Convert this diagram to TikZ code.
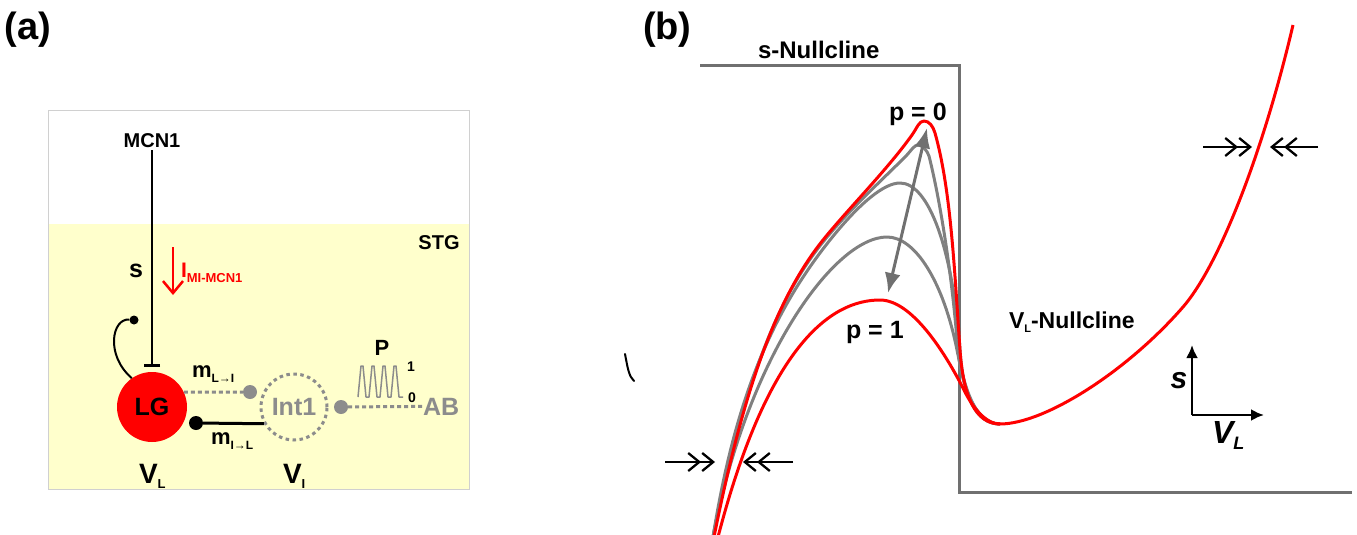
\documentclass[tikz,border=0pt]{standalone}
\usepackage{fontspec}
\setmainfont{Liberation Sans}
\usetikzlibrary{arrows.meta}
\newcommand\myfs[1]{\fontsize{#1pt}{#1pt}\selectfont\bfseries}
\definecolor{stgyellow}{HTML}{FFFFCC}
\definecolor{boxgray}{HTML}{D0D0D0}
\definecolor{dotgray}{HTML}{8C8C8C}
\definecolor{curvegray}{HTML}{808080}
\definecolor{nullgray}{HTML}{707070}
\definecolor{arrgray}{HTML}{707070}
\tikzset{
  txt/.style={inner sep=0pt, outer sep=0pt},
  gdot/.style={circle, fill=dotgray, inner sep=0pt, minimum size=14},
  kdot/.style={circle, fill=black, inner sep=0pt, minimum size=14},
  sdotk/.style={circle, fill=black, inner sep=0pt, minimum size=9},
  gdash/.style={dotgray, line width=3, dash pattern=on 4 off 3},
  redc/.style={red, line width=3, line join=round},
  grayc/.style={curvegray, line width=3, line join=round},
  chev/.style={line width=2.3, -{Straight Barb[length=11,width=18,line width=2.3] Straight Barb[length=11,width=18,line width=2.3]}},
  axarr/.style={line width=2.5, -{Latex[length=13,width=12]}},
}
\begin{document}
\begin{tikzpicture}[x=1pt,y=-1pt]
\useasboundingbox (0,0) rectangle (1357,535);
% ---------------- panel (a) ----------------
\node[txt, anchor=base west, font=\myfs{38}] (la) at (5,40) {(a)};
\fill[stgyellow] (48,224) rectangle (469,489);
\draw[boxgray, line width=1] (48,110) rectangle (469,489);
\node[txt, anchor=base, font=\myfs{20}] (mcn) at (152,147) {MCN1};
\node[txt, anchor=base, font=\myfs{20}] (stg) at (439,249) {STG};
\node[txt, anchor=base, font=\myfs{25}] (slab) at (136,277) {s};
\node[circle, fill=red, minimum size=70, inner sep=0pt, font=\myfs{25}] (lg) at (152,407) {LG};
\node[circle, draw=dotgray, line width=3, dash pattern=on 3.5 off 3.5, minimum size=66, inner sep=0pt, text=dotgray, font=\myfs{25}] (int) at (294,407) {Int1};
\node[gdot] (d1) at (250,392) {};
\node[kdot] (d2) at (196,423) {};
\node[gdot] (d3) at (341,407) {};
\node[sdotk] (sd) at (134,320) {};
\node[txt, anchor=base west, text=dotgray, font=\myfs{25}] (ab) at (423,415) {AB};
% MCN1 -> LG inhibitory
\draw[line width=2.5, -{Bar[width=16,line width=2.5]}] (mcn.south) ++(0,3) -- ([yshift=5pt]lg.north);
% self synapse
\draw[line width=2] (lg.125) .. controls (105,355) and (112,318) .. (sd);
% red current arrow
\coordinate (ra) at (173,247);
\coordinate (rb) at (173,295);
\draw[red, line width=2.5, -{Straight Barb[length=12,width=20,line width=2.5]}] (ra) -- (rb);
\node[txt, anchor=base west, text=red] (ilab) at (181,277) {\myfs{21}I\raisebox{-5pt}{\myfs{13}MI-MCN1}};
% synapses
\draw[gdash] (lg.25) -- (d1);
\draw[line width=3] (d2) -- (int.209);
\draw[gdash] (d3) -- (ab.west);
\node[txt, anchor=base west] (mli) at (192,377) {\myfs{22}m\raisebox{-5pt}{\myfs{12}L→I}};
\node[txt, anchor=base west] (mil) at (211,444) {\myfs{22}m\raisebox{-5pt}{\myfs{12}I→L}};
% pulse train
\draw[dotgray, line width=1.5, line join=round]
  (358,397) -- (361,366) -- (363,366) -- (366,397) -- (369,397)
  -- (372,366) -- (374,366) -- (377,397) -- (380,397)
  -- (383,366) -- (385,366) -- (388,397) -- (391,397)
  -- (394,366) -- (396,366) -- (399,397) -- (403,397);
\node[txt, anchor=base, font=\myfs{22}] (plab) at (382,355) {P};
\node[txt, anchor=base, font=\myfs{14}] (p1) at (411,371) {1};
\node[txt, anchor=base, font=\myfs{14}] (p0) at (412,402) {0};
\node[txt, anchor=base west] (vl) at (139,483) {\myfs{28}V\raisebox{-5pt}{\myfs{13}L}};
\node[txt, anchor=base west] (vi) at (283,483) {\myfs{28}V\raisebox{-5pt}{\myfs{13}I}};
% ---------------- panel (b) ----------------
\node[txt, anchor=base west, font=\myfs{38}] (lb) at (643,40) {(b)};
\node[txt, anchor=base west, font=\myfs{24}] (snull) at (758,59) {s-Nullcline};
\draw[nullgray, line width=3, line join=miter] (700,66) -- (959,66) -- (959,492) -- (1352,492);
% gray curves
\draw[grayc] (713,537) .. controls (747.2,357) and (834.4,237) .. (887,237)
  .. controls (915.5,237) and (943.4,282.2) .. (957,350)
  .. controls (965,390) and (975,424) .. (1000,424);
\draw[grayc] (713,537) .. controls (734.1,405.1) and (769.2,316) .. (830,240)
  .. controls (859.6,203) and (884.1,183) .. (900,183)
  .. controls (929,183) and (953,250) .. (960,350)
  .. controls (963,395) and (975,424) .. (1000,424);
\draw[grayc] (713,537) .. controls (743,387) and (776,300) .. (823,242)
  .. controls (848,211) and (885,177) .. (905,157)
  .. controls (911,151) and (914,145) .. (918,145)
  .. controls (922,145) and (927,150) .. (929,156)
  .. controls (941.5,206) and (952.2,280) .. (957,340)
  .. controls (960,385) and (975,424) .. (1000,424);
% red curves
\draw[redc] (718,537) .. controls (767.3,347.4) and (829.8,300) .. (880,300)
  .. controls (911.2,300) and (944.3,350.6) .. (965,392)
  .. controls (972,406) and (985,424) .. (1000,424);
\draw[redc] (714,537) .. controls (744,387) and (776.7,297.8) .. (823,240)
  .. controls (848,209) and (887,170) .. (912,135)
  .. controls (917,128) and (919,121) .. (924,121)
  .. controls (929,121) and (933,126) .. (935,133)
  .. controls (951,190) and (954.4,270) .. (960,350)
  .. controls (963,395) and (975,424) .. (1000,424)
  .. controls (1044.6,424) and (1127,371.4) .. (1183,307)
  .. controls (1219,265.6) and (1263,152.8) .. (1293,25);
% p arrow
\coordinate (pa) at (927,128);
\coordinate (pb) at (888,293);
\draw[arrgray, line width=3, {Latex[length=20,width=16]}-{Latex[length=20,width=16]}] (pa) -- (pb);
\node[txt, anchor=base west, font=\myfs{25}] (pzero) at (889,120) {p = 0};
\node[txt, anchor=base west, font=\myfs{25}] (pone) at (846,338) {p = 1};
\node[txt, anchor=base west] (vnull) at (1009,328) {\myfs{23}V\raisebox{-4pt}{\myfs{11}L}-Nullcline};
% chevron arrows
\coordinate (c1a) at (665,462); \coordinate (c1b) at (715,462);
\coordinate (c2a) at (793,462); \coordinate (c2b) at (743,462);
\coordinate (c3a) at (1203,147); \coordinate (c3b) at (1252,147);
\coordinate (c4a) at (1318,147); \coordinate (c4b) at (1270,147);
\draw[chev] (c1a) -- (c1b);
\draw[chev] (c2a) -- (c2b);
\draw[chev] (c3a) -- (c3b);
\draw[chev] (c4a) -- (c4b);
% axes inset
\coordinate (ax0) at (1192,415);
\coordinate (axs) at (1192,345);
\coordinate (axv) at (1264,415);
\draw[axarr] (ax0) -- (axs);
\draw[axarr] (ax0) -- (axv);
\node[txt, anchor=base, font=\myfs{30}\itshape] (sax) at (1179,388) {s};
\node[txt, anchor=base west] (vax) at (1212,443) {\myfs{32}\itshape V\raisebox{-6pt}{\myfs{18}\itshape L}};
% small stroke
\draw[line width=2, line cap=round] (625,354) .. controls (628,370) and (629,376) .. (634,381);
\end{tikzpicture}
\end{document}
